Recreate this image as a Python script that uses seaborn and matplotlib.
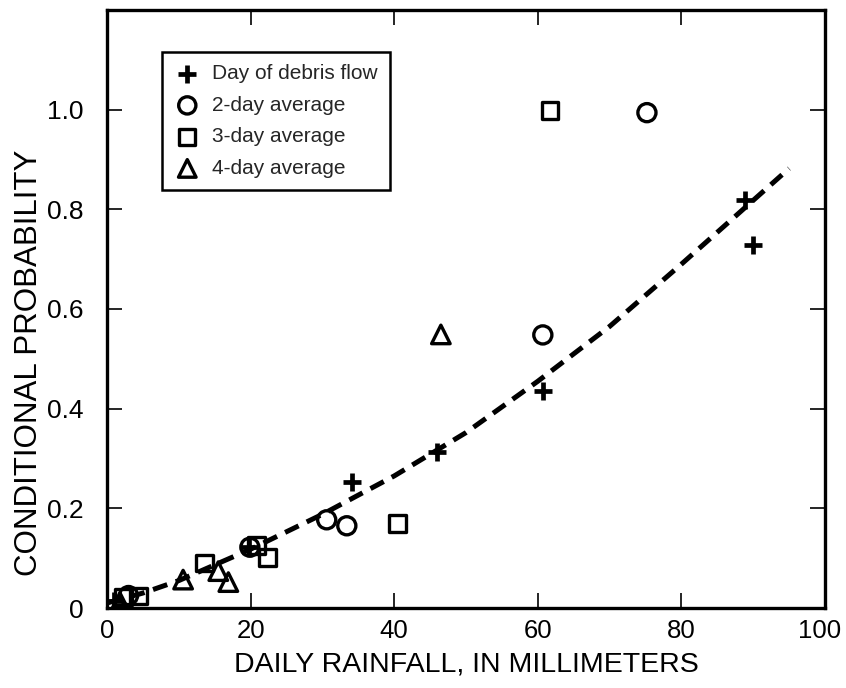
import matplotlib
matplotlib.use("Agg")
import matplotlib.pyplot as plt
import matplotlib.transforms as mtransforms
import seaborn as sns
import numpy as np
import pandas as pd

# ---- data ----
day_x = [1.0, 19.8, 34.1, 46.0, 60.7, 88.9, 90.0]
day_y = [0.015, 0.122, 0.252, 0.313, 0.435, 0.818, 0.728]

avg2_x = [3.0, 19.9, 30.6, 33.4, 60.7, 75.2]
avg2_y = [0.025, 0.122, 0.177, 0.165, 0.548, 0.994]

avg3_x = [2.3, 4.4, 13.6, 20.8, 22.4, 40.5, 61.7]
avg3_y = [0.022, 0.024, 0.090, 0.126, 0.102, 0.170, 0.998]

avg4_x = [1.8, 10.6, 15.5, 16.9, 46.5]
avg4_y = [0.012, 0.057, 0.074, 0.052, 0.549]

curve_x = [0, 5, 10, 20, 30, 40, 50, 60, 70, 80, 90, 95]
curve_y = [0.010, 0.030, 0.055, 0.118, 0.188, 0.265, 0.352, 0.455, 0.565, 0.690, 0.818, 0.882]

x_ticks = [0, 20, 40, 60, 80, 100]
y_ticks = [0.2, 0.4, 0.6, 0.8, 1.0]
y_tick_labels = ["0.2", "0.4", "0.6", "0.8", "1.0"]

sns.set_theme(style="ticks")
plt.rcParams['font.family'] = ['Liberation Sans', 'DejaVu Sans']

fig = plt.figure(figsize=(8.46, 6.88), dpi=100)
ax = fig.add_axes([107/846, 1 - 608/688, (825-107)/846, (608-10)/688])

curve_df = pd.DataFrame({"x": curve_x, "y": curve_y})
sns.lineplot(data=curve_df, x="x", y="y", ax=ax, color="black", linewidth=3.6,
             linestyle=(0, (3.0, 1.8)), legend=False, zorder=2)

ms = 170
ew = 2.4
sns.scatterplot(x=day_x, y=day_y, ax=ax, marker="+", s=ms*1.05, color="black",
                linewidth=3.4, label="Day of debris flow", zorder=4)
sns.scatterplot(x=avg2_x, y=avg2_y, ax=ax, marker="o", s=ms, facecolor="none",
                edgecolor="black", linewidth=ew, label="2-day average", zorder=3)
sns.scatterplot(x=avg3_x, y=avg3_y, ax=ax, marker="s", s=ms*0.85, facecolor="none",
                edgecolor="black", linewidth=ew, label="3-day average", zorder=3)
sns.scatterplot(x=avg4_x, y=avg4_y, ax=ax, marker="^", s=ms*1.05, facecolor="none",
                edgecolor="black", linewidth=ew, label="4-day average", zorder=3)

ax.set_xlim(0, 100)
ax.set_ylim(0, 1.2)
ax.set_xticks(x_ticks)
ax.set_xticklabels([str(t) for t in x_ticks], fontsize=18.5)
ax.set_yticks([0] + y_ticks)
ax.set_yticklabels(["0"] + y_tick_labels, fontsize=19)

ax.tick_params(axis="both", direction="in", length=11, width=1.2,
               top=True, right=True, color="black", labelcolor="black")
ax.tick_params(axis="x", pad=8)
ax.tick_params(axis="y", pad=17)
for s in ax.spines.values():
    s.set_linewidth(2.4)
    s.set_color("black")

# nudge the last x tick label so it stays inside the figure
lab = ax.get_xticklabels()[-1]
lab.set_transform(lab.get_transform() + mtransforms.ScaledTranslation(-5/100, 0, fig.dpi_scale_trans))

ax.set_xlabel("DAILY RAINFALL, IN MILLIMETERS", fontsize=20.5,
              labelpad=6, color="black")
ax.set_ylabel("CONDITIONAL PROBABILITY", fontsize=22.5, color="black")
ax.yaxis.set_label_coords(-0.088, 0.41)

leg = ax.legend(loc="upper left", bbox_to_anchor=(0.077, 0.93), borderaxespad=0,
                fontsize=15,
                frameon=True, fancybox=False, edgecolor="black", framealpha=1,
                handletextpad=0.6, borderpad=0.6, labelspacing=0.6, handlelength=1.2,
                markerscale=0.95)
leg.get_frame().set_linewidth(1.8)

fig.savefig("out.png", dpi=100)
